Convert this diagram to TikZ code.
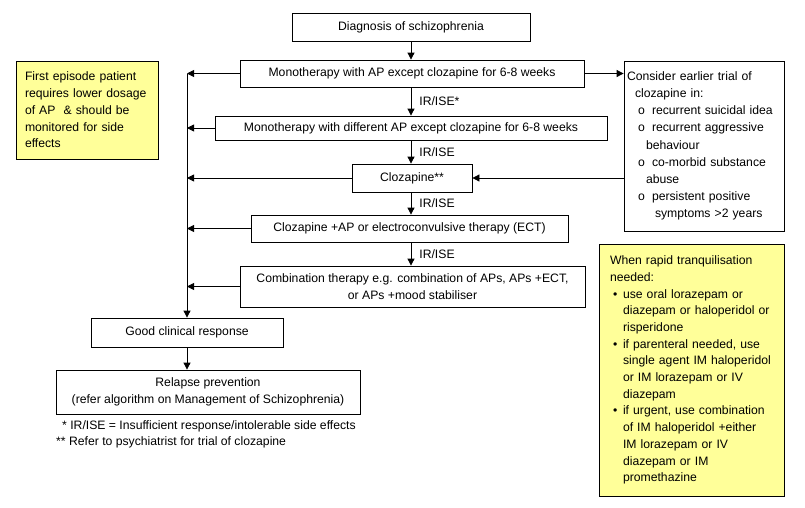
\documentclass[tikz,border=0pt]{standalone}
\usepackage{fontspec}
\setmainfont{Liberation Sans}
\usepackage{tikz}
\usetikzlibrary{
    calc,
    positioning,
    arrows.meta
}
\definecolor{notefill}{HTML}{FFFF99}
\newcommand{\SubItem}[1]{\hspace*{11pt}\makebox[14pt][l]{o}#1}
\newcommand{\DotItem}[1]{\hspace*{3pt}\makebox[10pt][l]{\textbullet}#1}
\newcommand{\HangOn}[2]{\hspace*{#1}#2}
\tikzset{
  txt/.style={font=\fontsize{12.2}{16.7}\selectfont},
  stepbox/.style={txt, draw, line width=0.8pt, inner sep=0pt, align=center},
  notebox/.style={stepbox, fill=notefill, align=left},
  arr/.style={line width=0.8pt, -{Triangle[length=7pt,width=7pt]}},
  irlabel/.style={txt, right, inner sep=0pt, xshift=8pt}
}

\begin{document}
\begin{tikzpicture}[x=1pt,y=-1pt]
  \useasboundingbox (0,0) rectangle (805,507);

  % main column
  \node[stepbox, minimum width=238pt, minimum height=28pt] (diag) at (411,27) {Diagnosis of schizophrenia};
  \node[stepbox, minimum width=344pt, minimum height=27pt] (mono) at (412,73.5) {Monotherapy with AP except clozapine for 6-8 weeks};
  \node[stepbox, minimum width=392pt, minimum height=24pt] (monodiff) at (411,128) {Monotherapy with different AP except clozapine for 6-8 weeks};
  \node[stepbox, minimum width=120pt, minimum height=28pt] (cloz) at (412,178) {Clozapine**};
  \node[stepbox, minimum width=317pt, minimum height=27pt] (clozect) at (409.5,228.5) {Clozapine +AP or electroconvulsive therapy (ECT)};
  \node[stepbox, minimum width=345pt, minimum height=41pt] (combo) at (412.5,286.5) {Combination therapy e.g. combination of APs, APs +ECT,\\or APs +mood stabiliser};
  \node[stepbox, minimum width=192pt, minimum height=29pt] (good) at (187,332.5) {Good clinical response};
  \node[stepbox, minimum width=304pt, minimum height=44pt] (relapse) at (208,392) {Relapse prevention\\(refer algorithm on Management of Schizophrenia)};

  % side notes
  \node[notebox, minimum width=142pt, minimum height=98pt, text width=124pt] (first) at (87,110)
    {First episode patient\\requires lower dosage\\of AP \ \& should be\\monitored for side\\effects};
  \node[stepbox, align=left, minimum width=160pt, minimum height=170pt, text width=154pt,
        font=\fontsize{12.2}{17.2}\selectfont] (earlier) at (704,146)
    {Consider earlier trial of\\
     \HangOn{8pt}{clozapine in:}\\
     \SubItem{recurrent suicidal idea}\\
     \SubItem{recurrent aggressive}\\
     \HangOn{19pt}{behaviour}\\
     \SubItem{co-morbid substance}\\
     \HangOn{19pt}{abuse}\\
     \SubItem{persistent positive}\\
     \HangOn{28pt}{symptoms >2 years}};
  \node[notebox, minimum width=185pt, minimum height=252pt, text width=163pt] (rapid) at (691.5,370)
    {When rapid tranquilisation\\
     needed:\\
     \DotItem{use oral lorazepam or}\\
     \HangOn{13pt}{diazepam or haloperidol or}\\
     \HangOn{13pt}{risperidone}\\
     \DotItem{if parenteral needed, use}\\
     \HangOn{13pt}{single agent IM haloperidol}\\
     \HangOn{13pt}{or IM lorazepam or IV}\\
     \HangOn{13pt}{diazepam}\\
     \DotItem{if urgent, use combination}\\
     \HangOn{13pt}{of IM haloperidol +either}\\
     \HangOn{13pt}{IM lorazepam or IV}\\
     \HangOn{13pt}{diazepam or IM}\\
     \HangOn{13pt}{promethazine}};

  % down the middle
  \draw[arr] (diag.south) -- (diag.south |- mono.north);
  \draw[arr] (diag.south |- mono.south) -- (diag.south |- monodiff.north) node[irlabel, midway] {IR/ISE*};
  \draw[arr] (diag.south |- monodiff.south) -- (diag.south |- cloz.north) node[irlabel, midway] {IR/ISE};
  \draw[arr] (diag.south |- cloz.south) -- (diag.south |- clozect.north) node[irlabel, midway] {IR/ISE};
  \draw[arr] (diag.south |- clozect.south) -- (diag.south |- combo.north) node[irlabel, midway] {IR/ISE};

  % back to the left trunk
  \draw[arr] (mono.west -| good.north) -- (good.north);
  \draw[arr] (mono.west) -- (mono.west -| good.north);
  \draw[arr] (monodiff.west) -- (monodiff.west -| good.north);
  \draw[arr] (cloz.west) -- (cloz.west -| good.north);
  \draw[arr] (clozect.west) -- (clozect.west -| good.north);
  \draw[arr] (combo.west) -- (combo.west -| good.north);
  \draw[arr] (good.south) -- (good.south |- relapse.north);

  % out to the right
  \draw[arr] (mono.east) -- (mono.east -| earlier.west);
  \draw[arr] (cloz.east -| earlier.west) -- (cloz.east);

  % footnotes
  \node[txt, anchor=north west, inner sep=0pt, align=left, font=\fontsize{12.2}{16}\selectfont] (foot) at (56,420)
    {\hspace*{6pt}* IR/ISE = Insufficient response/intolerable side effects\\** Refer to psychiatrist for trial of clozapine};
\end{tikzpicture}
\end{document}
